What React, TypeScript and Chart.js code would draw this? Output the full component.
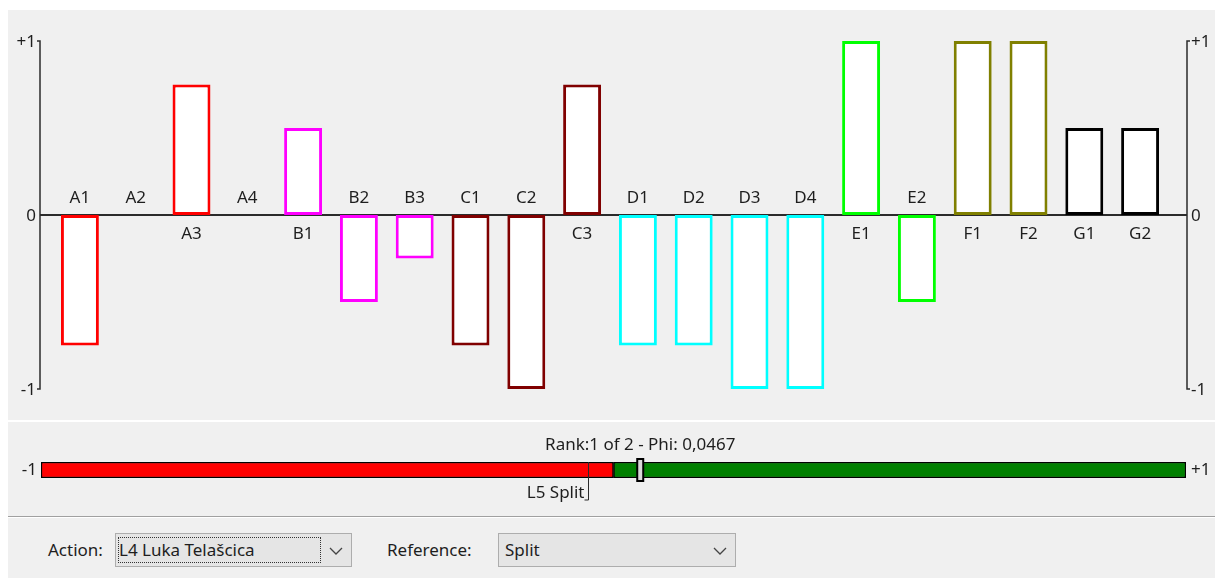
import React, { useEffect, useRef } from "react";
import { Chart, registerables } from "chart.js";
Chart.register(...registerables);

const categories = ["A1", "A2", "A3", "A4", "B1", "B2", "B3", "C1", "C2", "C3", "D1", "D2", "D3", "D4", "E1", "E2", "F1", "F2", "G1", "G2"];
const values = [-0.75, 0, 0.75, 0, 0.5, -0.5, -0.25, -0.75, -1, 0.75, -0.75, -0.75, -1, -1, 1, -0.5, 1, 1, 0.5, 0.5];
const groupColors: Record<string, string> = { A: "#ff0000", B: "#ff00ff", C: "#800000", D: "#00ffff", E: "#00ff00", F: "#808000", G: "#000000" };
const axisTickValues = [1, 0, -1];
const axisTickLabels = ["+1", "0", "-1"];

const phiMin = -1;
const phiMax = 1;
const actionPhi = 0.0467;
const referencePhi = -0.045;
const referenceLabel = "L5 Split";
const rankText = "Rank:1 of 2 - Phi: 0,0467";
const actionName = "L4 Luka Telašcica";
const referenceName = "Split";

const FONT = "'Noto Sans', 'DejaVu Sans', sans-serif";
const FS = 17;
const TEXT = "#1e1e1e";
const LINE = "#2b2b2b";

const profilePlugin = {
  id: "profileDecor",
  beforeDatasetsDraw(chart: any) {
    const { ctx, chartArea, scales } = chart;
    const y = scales.y;
    const leftX = chartArea.left - 12;
    const rightX = chartArea.right + 19;
    const yTop = y.getPixelForValue(1);
    const yBot = y.getPixelForValue(-1);
    const y0 = y.getPixelForValue(0);
    ctx.save();
    ctx.strokeStyle = LINE;
    ctx.lineWidth = 2;
    ctx.beginPath();
    ctx.moveTo(leftX, y0);
    ctx.lineTo(rightX, y0);
    ctx.stroke();
    ctx.lineWidth = 1.5;
    ctx.beginPath();
    ctx.moveTo(leftX - 3, yTop);
    ctx.lineTo(leftX, yTop);
    ctx.lineTo(leftX, yBot);
    ctx.lineTo(leftX - 3, yBot);
    ctx.moveTo(rightX + 3, yTop);
    ctx.lineTo(rightX, yTop);
    ctx.lineTo(rightX, yBot);
    ctx.lineTo(rightX + 3, yBot);
    ctx.stroke();
    ctx.fillStyle = TEXT;
    ctx.font = `${FS}px ${FONT}`;
    ctx.textBaseline = "middle";
    axisTickValues.forEach((v, i) => {
      const py = y.getPixelForValue(v) + 1;
      ctx.textAlign = "right";
      ctx.fillText(axisTickLabels[i], leftX - 4, py);
      ctx.textAlign = "left";
      ctx.fillText(axisTickLabels[i], rightX + 4, py);
    });
    ctx.restore();
  },
  afterDatasetsDraw(chart: any) {
    const { ctx, scales } = chart;
    const x = scales.x;
    const y0 = scales.y.getPixelForValue(0);
    ctx.save();
    ctx.fillStyle = TEXT;
    ctx.font = `${FS}px ${FONT}`;
    ctx.textAlign = "center";
    ctx.textBaseline = "middle";
    categories.forEach((c, i) => {
      const px = x.getPixelForValue(i);
      const py = values[i] > 0 ? y0 + 19 : y0 - 17;
      ctx.fillText(c, px, py);
    });
    ctx.restore();
  },
};

const sliderPlugin = {
  id: "sliderDecor",
  afterDatasetsDraw(chart: any) {
    const { ctx, chartArea, scales } = chart;
    const x = scales.x;
    const top = chartArea.top;
    const bottom = chartArea.bottom;
    const mid = (top + bottom) / 2;
    ctx.save();
    const rx = Math.round(x.getPixelForValue(referencePhi)) + 0.5;
    ctx.strokeStyle = LINE;
    ctx.lineWidth = 1;
    ctx.beginPath();
    ctx.moveTo(rx, top);
    ctx.lineTo(rx, bottom + 22);
    ctx.lineTo(rx - 4, bottom + 22);
    ctx.stroke();
    const mx = x.getPixelForValue(actionPhi);
    ctx.fillStyle = "#d9d9d9";
    ctx.fillRect(mx - 3, top - 3, 6, bottom - top + 6);
    ctx.strokeStyle = "#000";
    ctx.lineWidth = 2;
    ctx.strokeRect(mx - 3, top - 3, 6, bottom - top + 6);
    ctx.fillStyle = TEXT;
    ctx.font = `${FS}px ${FONT}`;
    ctx.textBaseline = "middle";
    ctx.textAlign = "center";
    ctx.fillText(rankText, mx, top - 17);
    ctx.textAlign = "right";
    ctx.fillText(referenceLabel, rx - 4, bottom + 15);
    ctx.fillText("-1", chartArea.left - 4, mid);
    ctx.textAlign = "left";
    ctx.fillText("+1", chartArea.right + 5, mid);
    ctx.restore();
  },
};

function Chevron() {
  return (
    <svg width="14" height="10" style={{ position: "absolute", right: 8, top: 12 }}>
      <polyline points="1,2 7,8 13,2" fill="none" stroke="#444" strokeWidth="1.3" />
    </svg>
  );
}

export default function App() {
  const mainRef = useRef<HTMLCanvasElement>(null);
  const sliderRef = useRef<HTMLCanvasElement>(null);

  useEffect(() => {
    const main = new Chart(mainRef.current!, {
      type: "bar",
      data: {
        labels: categories,
        datasets: [
          {
            data: values,
            backgroundColor: "#ffffff",
            borderColor: categories.map((c) => groupColors[c[0]]),
            borderWidth: (ctx: any) => (values[ctx.dataIndex] === 0 ? 0 : 3),
            borderSkipped: false,
            barPercentage: 0.68,
            categoryPercentage: 1,
          } as any,
        ],
      },
      options: {
        responsive: false,
        animation: false,
        layout: { padding: { left: 44, right: 47, top: 31, bottom: 31 } },
        plugins: { legend: { display: false }, tooltip: { enabled: false } },
        scales: {
          x: { type: "category", display: false, offset: true },
          y: { type: "linear", display: false, min: -1, max: 1 },
        },
      },
      plugins: [profilePlugin],
    });

    const slider = new Chart(sliderRef.current!, {
      type: "bar",
      data: {
        labels: ["phi"],
        datasets: [
          { data: [[phiMin, 0]], backgroundColor: "#ff0000", borderColor: "#000", borderWidth: 1.5, borderSkipped: false, grouped: false, barPercentage: 1, categoryPercentage: 1 } as any,
          { data: [[0, phiMax]], backgroundColor: "#008000", borderColor: "#000", borderWidth: 1.5, borderSkipped: false, grouped: false, barPercentage: 1, categoryPercentage: 1 } as any,
        ],
      },
      options: {
        indexAxis: "y",
        responsive: false,
        animation: false,
        layout: { padding: { left: 33, right: 29, top: 40, bottom: 38 } },
        plugins: { legend: { display: false }, tooltip: { enabled: false } },
        scales: {
          x: { type: "linear", display: false, min: phiMin, max: phiMax },
          y: { type: "category", display: false },
        },
      },
      plugins: [sliderPlugin],
    });

    return () => {
      main.destroy();
      slider.destroy();
    };
  }, []);

  const textStyle: React.CSSProperties = { position: "absolute", font: `${FS}px ${FONT}`, color: TEXT, lineHeight: "20px", whiteSpace: "nowrap" };
  const boxStyle: React.CSSProperties = {
    position: "absolute",
    background: "#e5e5e5",
    border: "1px solid #adadad",
    boxSizing: "border-box",
    height: 34,
  };

  return (
    <div style={{ position: "absolute", left: 8, top: 10, width: 1207, height: 568, background: "#f0f0f0", overflow: "hidden" }}>
      <canvas ref={mainRef} width={1207} height={410} style={{ position: "absolute", left: 0, top: 0 }} />
      <div style={{ position: "absolute", left: 0, top: 410, width: 1207, height: 2, background: "#ffffff" }} />
      <canvas ref={sliderRef} width={1207} height={94} style={{ position: "absolute", left: 0, top: 412 }} />
      <div style={{ position: "absolute", left: 0, top: 506, width: 1207, height: 1, background: "#a0a0a0" }} />
      <div style={{ position: "absolute", left: 0, top: 507, width: 1207, height: 1, background: "#ffffff" }} />
      <div style={{ ...textStyle, left: 40, top: 530 }}>Action:</div>
      <div style={{ ...boxStyle, left: 107, top: 523, width: 237 }}>
        <div style={{ position: "absolute", left: 2, top: 3, width: 203, height: 26, border: "1px dotted #333", boxSizing: "border-box" }} />
        <div style={{ ...textStyle, left: 3, top: 6 }}>{actionName}</div>
        <Chevron />
      </div>
      <div style={{ ...textStyle, left: 379, top: 530 }}>Reference:</div>
      <div style={{ ...boxStyle, left: 490, top: 523, width: 238 }}>
        <div style={{ ...textStyle, left: 6, top: 6 }}>{referenceName}</div>
        <Chevron />
      </div>
    </div>
  );
}
